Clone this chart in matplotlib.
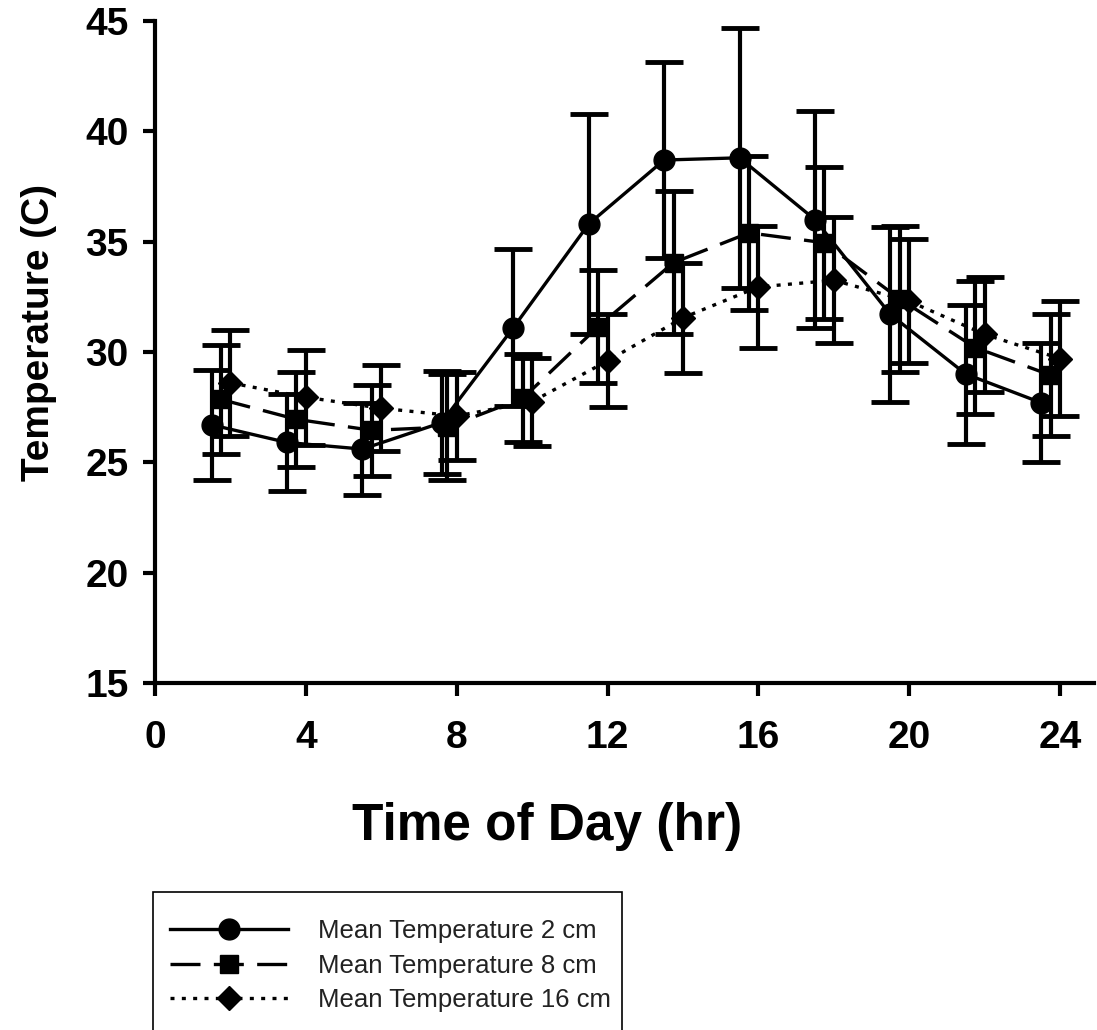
import numpy as np
import matplotlib
matplotlib.use('agg')
import matplotlib.pyplot as plt
from matplotlib.patches import Rectangle

plt.rcParams['font.family'] = ['Liberation Sans', 'DejaVu Sans']

# Mean soil temperature (C) with error bars at three depths
hours_2cm = [1.5, 3.5, 5.5, 7.6, 9.5, 11.5, 13.5, 15.5, 17.5, 19.5, 21.5, 23.5]
temp_2cm = [26.7, 25.9, 25.6, 26.8, 31.1, 35.8, 38.7, 38.8, 36.0, 31.7, 29.0, 27.7]
err_2cm = [2.5, 2.2, 2.1, 2.35, 3.55, 5.0, 4.45, 5.9, 4.9, 3.95, 3.15, 2.7]

hours_8cm = [1.75, 3.75, 5.75, 7.75, 9.75, 11.75, 13.75, 15.75, 17.75, 19.75, 21.75, 23.75]
temp_8cm = [27.85, 26.95, 26.45, 26.6, 27.9, 31.15, 34.05, 35.4, 34.95, 32.4, 30.2, 28.95]
err_8cm = [2.45, 2.15, 2.05, 2.4, 2.0, 2.55, 3.25, 3.5, 3.45, 3.3, 3.0, 2.75]

hours_16cm = [2, 4, 6, 8, 10, 12, 14, 16, 18, 20, 22, 24]
temp_16cm = [28.6, 27.95, 27.45, 27.1, 27.75, 29.6, 31.55, 32.95, 33.25, 32.3, 30.8, 29.7]
err_16cm = [2.4, 2.15, 1.95, 2.0, 2.0, 2.1, 2.5, 2.75, 2.85, 2.8, 2.6, 2.6]

labels = ["Mean Temperature 2 cm", "Mean Temperature 8 cm",
          "Mean Temperature 16 cm"]
xticks = [0, 4, 8, 12, 16, 20, 24]
yticks = [15, 20, 25, 30, 35, 40, 45]

fig = plt.figure(figsize=(10.97, 10.30), dpi=100)
ax = fig.add_axes([0.1413, 0.3369, 0.856, 0.6427])

eb = dict(ecolor='k', elinewidth=3, capsize=14, capthick=3.5, color='k')
c1 = ax.errorbar(hours_2cm, temp_2cm, yerr=err_2cm, ls='-', lw=2.4,
                 marker='o', ms=15, **eb)
c2 = ax.errorbar(hours_8cm, temp_8cm, yerr=err_8cm, ls=(0, (9, 4)), lw=2.4,
                 marker='s', ms=13, **eb)
c3 = ax.errorbar(hours_16cm, temp_16cm, yerr=err_16cm, ls=(0, (1.2, 2.2)),
                 lw=2.4, marker='D', ms=12, **eb)

ax.set_xlim(0, 24.9)
ax.set_ylim(15, 45)
ax.set_xticks(xticks)
ax.set_yticks(yticks)

for s in ['top', 'right']:
    ax.spines[s].set_visible(False)
for s in ['left', 'bottom']:
    ax.spines[s].set_linewidth(3)
ax.tick_params(length=9, width=3, labelsize=28)
ax.tick_params(axis='x', pad=18)
ax.tick_params(axis='y', pad=10)
for t in ax.get_xticklabels() + ax.get_yticklabels():
    t.set_fontweight('bold')

ax.set_xlabel("Time of Day (hr)", fontsize=37, fontweight='bold')
ax.set_ylabel("Temperature (C)", fontsize=28, fontweight='bold')
ax.xaxis.set_label_coords(0.417, -0.18)
ax.yaxis.set_label_coords(-0.104, 0.53)

# legend box runs off the bottom of the figure, as in the original
fig.patches.append(Rectangle((0.1395, -0.05), 0.4275, 0.184,
                             transform=fig.transFigure, fill=False,
                             ec='k', lw=1.2))

# legend shows only the line + marker, no error bars
handles = [c1[0], c2[0], c3[0]]
leg = fig.legend(handles, labels, loc='upper left',
                 bbox_to_anchor=(0.155, 0.108),
                 fontsize=18.5, handlelength=4.6, handletextpad=1.15,
                 labelspacing=0.42, borderpad=0, borderaxespad=0,
                 frameon=False, labelcolor='#222222')

fig.savefig('out.png', dpi=100, facecolor='w')
